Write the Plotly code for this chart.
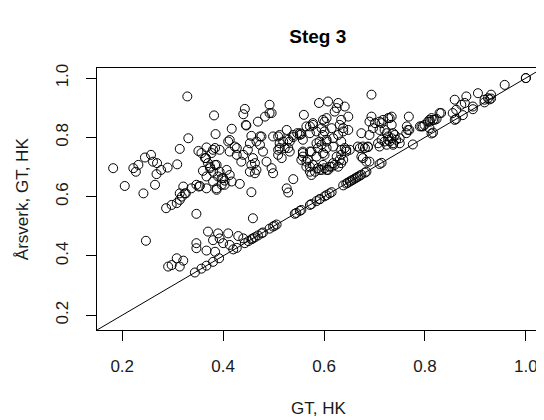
import plotly.graph_objects as go

# points above the diagonal (GT, HK vs Årsverk, GT, HK)
upper_x = [0.329, 0.382, 0.385, 0.331, 0.314, 0.351, 0.367, 0.380, 0.366, 0.182, 0.222, 0.227, 0.232, 0.245, 0.257,
           0.261, 0.269, 0.277, 0.290, 0.309, 0.268, 0.205, 0.265, 0.242, 0.321, 0.337, 0.352, 0.360, 0.374, 0.384,
           0.367, 0.380, 0.390, 0.314, 0.326, 0.347,
           0.443, 0.440, 0.492, 0.496, 0.483, 0.469, 0.446, 0.417, 0.590, 0.608, 0.560, 0.572, 0.578, 0.598, 0.605,
           0.585, 0.595, 0.476, 0.499, 0.512, 0.526, 0.539, 0.547, 0.555, 0.529, 0.453, 0.473, 0.449, 0.427, 0.413,
           0.410, 0.423, 0.393, 0.384, 0.377, 0.512, 0.509, 0.522, 0.532, 0.459, 0.456, 0.466, 0.453, 0.463, 0.440,
           0.436, 0.486, 0.496, 0.499, 0.516, 0.509, 0.558, 0.572, 0.585, 0.598, 0.555, 0.568, 0.578, 0.588, 0.572,
           0.598, 0.608, 0.433, 0.456, 0.526, 0.387, 0.393, 0.400, 0.407, 0.413, 0.403, 0.417, 0.387,
           0.694, 0.628, 0.641, 0.621, 0.625, 0.601, 0.634, 0.648, 0.598, 0.605, 0.618, 0.628, 0.638, 0.631, 0.615,
           0.595, 0.605, 0.618, 0.625, 0.634, 0.644, 0.651, 0.638, 0.618, 0.628, 0.611, 0.605, 0.595,
           0.694, 0.690, 0.714, 0.730, 0.734, 0.697, 0.710, 0.724, 0.674, 0.690, 0.727, 0.740, 0.730, 0.743, 0.707,
           0.724, 0.710, 0.737, 0.750, 0.768, 0.764, 0.766, 0.790, 0.799, 0.809, 0.813, 0.819, 0.809,
           0.667, 0.677, 0.687, 0.674, 0.684,
           0.958, 0.931, 0.918, 0.905, 0.882, 0.859, 0.872, 0.879, 0.895, 0.862, 0.855, 0.832, 0.806, 0.796,
           0.539, 0.529, 0.565, 0.582, 0.621, 0.634,
           0.445, 0.492, 0.354, 0.367, 0.387, 0.397, 0.403, 0.397, 0.374, 0.380, 0.370, 0.364, 0.357, 0.413, 0.427,
           0.463, 0.479, 0.466, 0.456, 0.473, 0.509, 0.519, 0.512, 0.532, 0.529, 0.539, 0.552, 0.558, 0.558, 0.558,
           0.572, 0.565, 0.578, 0.572, 0.552, 0.601, 0.605, 0.591, 0.585, 0.638, 0.634, 0.644, 0.648, 0.575, 0.601,
           0.588, 0.565, 0.575, 0.591, 0.601, 0.615, 0.631, 0.634, 0.641, 0.671, 0.681, 0.687, 0.677, 0.690,
           0.701, 0.710, 0.717, 0.727, 0.734, 0.720, 0.737, 0.734, 0.727, 0.750, 0.737, 0.714, 0.720, 0.769, 0.763,
           0.793, 0.810, 0.816, 0.829, 0.823]
upper_y = [0.938, 0.874, 0.811, 0.797, 0.761, 0.754, 0.766, 0.758, 0.730, 0.696, 0.696, 0.684, 0.707, 0.732, 0.741,
           0.718, 0.713, 0.690, 0.698, 0.709, 0.676, 0.636, 0.640, 0.611, 0.634, 0.628, 0.634, 0.687, 0.696, 0.707,
           0.668, 0.651, 0.668, 0.611, 0.611, 0.640,
           0.896, 0.878, 0.910, 0.882, 0.870, 0.853, 0.840, 0.829, 0.916, 0.921, 0.876, 0.837, 0.842, 0.859, 0.865,
           0.820, 0.831, 0.803, 0.803, 0.808, 0.825, 0.808, 0.814, 0.811, 0.792, 0.780, 0.775, 0.758, 0.741, 0.752,
           0.786, 0.769, 0.758, 0.764, 0.747, 0.780, 0.758, 0.764, 0.752, 0.730, 0.707, 0.690, 0.684, 0.679, 0.741,
           0.718, 0.718, 0.696, 0.679, 0.730, 0.741, 0.747, 0.752, 0.735, 0.747, 0.724, 0.724, 0.707, 0.696, 0.684,
           0.707, 0.690, 0.643, 0.615, 0.628, 0.707, 0.684, 0.662, 0.690, 0.673, 0.640, 0.651, 0.623,
           0.944, 0.916, 0.904, 0.887, 0.899, 0.853, 0.859, 0.870, 0.808, 0.792, 0.797, 0.808, 0.831, 0.842, 0.831,
           0.775, 0.764, 0.769, 0.735, 0.741, 0.752, 0.758, 0.724, 0.713, 0.701, 0.701, 0.690, 0.690,
           0.870, 0.853, 0.848, 0.865, 0.842, 0.831, 0.825, 0.814, 0.814, 0.808, 0.803, 0.808, 0.786, 0.792, 0.780,
           0.775, 0.769, 0.775, 0.780, 0.870, 0.837, 0.825, 0.837, 0.842, 0.859, 0.865, 0.859, 0.831,
           0.769, 0.769, 0.769, 0.735, 0.718,
           0.977, 0.944, 0.927, 0.949, 0.938, 0.927, 0.910, 0.916, 0.904, 0.893, 0.882, 0.882, 0.853, 0.837,
           0.659, 0.614, 0.701, 0.684, 0.707, 0.713,
           0.842, 0.882, 0.636, 0.628, 0.628, 0.640, 0.654, 0.662, 0.701, 0.684, 0.713, 0.730, 0.747, 0.791, 0.764,
           0.713, 0.752, 0.786, 0.805, 0.803, 0.803, 0.786, 0.764, 0.786, 0.764, 0.801, 0.808, 0.792, 0.752, 0.735,
           0.701, 0.837, 0.848, 0.814, 0.814, 0.820, 0.786, 0.786, 0.780, 0.820, 0.786, 0.758, 0.825, 0.752, 0.741,
           0.764, 0.718, 0.673, 0.690, 0.696, 0.701, 0.724, 0.758, 0.764, 0.764, 0.764, 0.767, 0.730, 0.718,
           0.848, 0.853, 0.859, 0.865, 0.870, 0.825, 0.814, 0.797, 0.792, 0.797, 0.780, 0.792, 0.786, 0.825, 0.814,
           0.837, 0.853, 0.859, 0.882, 0.862]

# lower cluster, below 0.62
lower_x = [0.247, 0.287, 0.298, 0.308, 0.314, 0.318, 0.324, 0.347, 0.459, 0.370, 0.390, 0.410, 0.393, 0.380,
           0.347, 0.347, 0.367, 0.384, 0.400, 0.413, 0.430, 0.440, 0.420, 0.291, 0.298, 0.308, 0.321, 0.314]
lower_y = [0.451, 0.561, 0.572, 0.578, 0.589, 0.600, 0.611, 0.542, 0.527, 0.482, 0.476, 0.476, 0.459, 0.453,
           0.443, 0.426, 0.418, 0.414, 0.443, 0.437, 0.467, 0.459, 0.422, 0.364, 0.369, 0.392, 0.384, 0.364]

# points on (or right at) the diagonal
diag_x = [0.344, 0.357, 0.367, 0.380, 0.392, 0.427, 0.443, 0.450, 0.459, 0.469, 0.476, 0.456, 0.463, 0.479,
          0.492, 0.499, 0.502, 0.506, 0.542, 0.545, 0.552, 0.555, 0.572, 0.575, 0.585, 0.591, 0.592, 0.601,
          0.605, 0.611, 0.615, 0.638, 0.644, 0.647, 0.651, 0.654, 0.657, 0.661, 0.664, 0.667, 0.671, 0.674,
          0.681, 0.684, 0.710, 0.714, 0.776, 0.813, 0.816, 0.859, 0.862, 0.875, 0.895, 0.918, 0.925, 0.928,
          0.931, 1.0, 1.0]
diag_y = [0.344, 0.357, 0.367, 0.380, 0.392, 0.427, 0.443, 0.450, 0.459, 0.469, 0.476, 0.456, 0.463, 0.479,
          0.492, 0.499, 0.502, 0.506, 0.542, 0.545, 0.552, 0.555, 0.572, 0.575, 0.585, 0.591, 0.592, 0.601,
          0.605, 0.611, 0.615, 0.638, 0.644, 0.647, 0.651, 0.654, 0.657, 0.661, 0.664, 0.667, 0.671, 0.674,
          0.681, 0.684, 0.710, 0.714, 0.776, 0.813, 0.816, 0.859, 0.862, 0.875, 0.895, 0.918, 0.932, 0.928,
          0.931, 1.0, 1.0]

ticks = [0.2, 0.4, 0.6, 0.8, 1.0]
tick_text = ["0.2", "0.4", "0.6", "0.8", "1.0"]
ab_line = [0, 1.1]

pts_x = upper_x + lower_x + diag_x
pts_y = upper_y + lower_y + diag_y

font = "Liberation Sans, Arial, sans-serif"
txt = '#1a1a1a'

fig = go.Figure()
fig.add_trace(go.Scatter(x=ab_line, y=ab_line, mode='lines',
                         line=dict(color='black', width=1), hoverinfo='skip'))
fig.add_trace(go.Scatter(x=pts_x, y=pts_y, mode='markers',
                         marker=dict(symbol='circle-open', size=9, color='black',
                                     line=dict(width=1))))

axis_common = dict(tickvals=ticks, ticktext=tick_text, ticks='outside', ticklen=10,
                   tickcolor='black', showline=True, linecolor='black', linewidth=1,
                   mirror=True, showgrid=False, zeroline=False, automargin=False,
                   tickfont=dict(family=font, size=17, color=txt))

# page body has an 8px margin, so the figure is a bit smaller than the window
fig.update_layout(
    width=536, height=412,
    margin=dict(l=89, r=4, t=60, b=90),
    paper_bgcolor='white', plot_bgcolor='white',
    showlegend=False,
    title=dict(text="<b>Steg 3</b>", x=0.578, xanchor='center', y=0.93, yanchor='middle',
               font=dict(family=font, size=19, color='black')),
    xaxis=dict(range=[0.15, 1.028], ticklabelstandoff=11, **axis_common),
    yaxis=dict(range=[0.15, 1.034], tickangle=-90, ticklabelstandoff=11, **axis_common),
    annotations=[
        dict(text="GT, HK", xref='paper', yref='paper', x=0.5, y=-0.298,
             xanchor='center', yanchor='middle', showarrow=False,
             font=dict(family=font, size=17, color=txt)),
        dict(text="Årsverk, GT, HK", xref='paper', yref='paper', x=-0.169, y=0.5,
             xanchor='center', yanchor='middle', showarrow=False, textangle=-90,
             font=dict(family=font, size=17, color=txt)),
    ],
)

fig.write_html("out.html")
